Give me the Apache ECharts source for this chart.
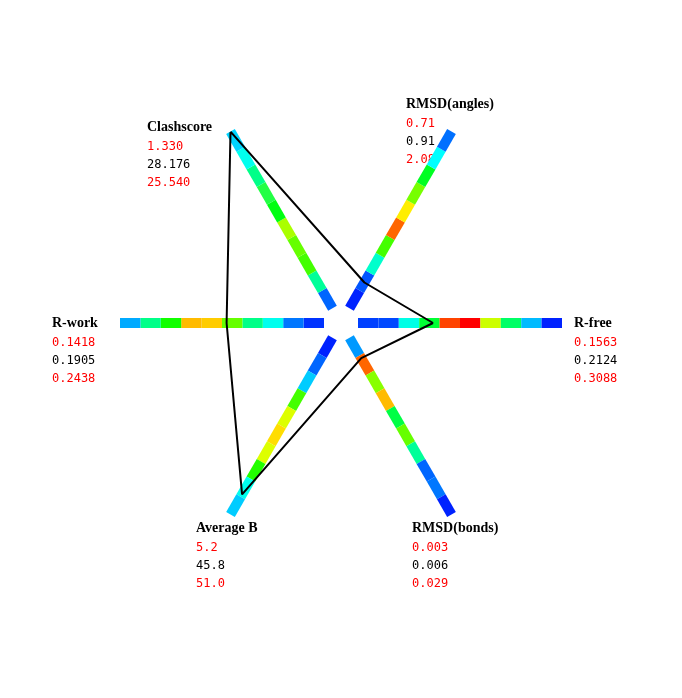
<!DOCTYPE html>
<html>
<head>
<meta charset="utf-8">
<script src="https://cdn.jsdelivr.net/npm/echarts@6/dist/echarts.min.js"></script>
<style>
html,body{margin:0;padding:0;background:#fff;}
#chart{width:682px;height:698px;}
</style>
</head>
<body>
<div id="chart"></div>
<script>
// Axes in counter-clockwise order starting at the right (0 deg)
var metrics = ['R-free', 'RMSD(angles)', 'Clashscore', 'R-work', 'Average B', 'RMSD(bonds)'];
var axisAngles = [0, 60, 120, 180, 240, 300];
var minLabels = ['0.1563', '0.71', '1.330', '0.1418', '5.2', '0.003'];
var valueLabels = ['0.2124', '0.91', '28.176', '0.1905', '45.8', '0.006'];
var maxLabels = ['0.3088', '2.08', '25.540', '0.2438', '51.0', '0.029'];

// Colours of the 10 bar segments on each axis, from centre outward
var segColors = [
  ['#0040ff', '#0048ff', '#00ffe6', '#00ff33', '#ff4400', '#ff0000', '#ccff00', '#00ff66', '#00bbff', '#0022ff'],
  ['#0022ff', '#0055ff', '#00ffcc', '#44ff00', '#ff6600', '#ffee00', '#77ff00', '#00ff22', '#00ffff', '#0070ff'],
  ['#0066ff', '#00ff99', '#44ff00', '#66ff00', '#aaff00', '#00ff11', '#22ff44', '#00ff88', '#00ffee', '#00d4ff'],
  ['#0033ff', '#0077ff', '#00ffee', '#00ff88', '#66ff00', '#ffcc00', '#ffbb00', '#11ff00', '#00ff88', '#00aaff'],
  ['#0022ff', '#0066ff', '#00ccff', '#44ff00', '#ddff00', '#ffdd00', '#ddff00', '#22ff00', '#00ffee', '#00ccff'],
  ['#0099ff', '#ff6600', '#88ff00', '#ffbb00', '#00ff44', '#66ff00', '#00ff99', '#0066ff', '#0077ff', '#0022ff']
];

var labelPos = [[574, 323], [406, 104], [147, 127], [52, 323], [196, 528], [412, 528]];

var nSeg = 10;
var segData = [];
for (var a = 0; a < metrics.length; a++) {
  for (var s = 0; s < nSeg; s++) {
    segData.push({value: [s / nSeg, axisAngles[a], (s + 1) / nSeg, a, s]});
  }
}

var polyData = [];
for (var i = 0; i < metrics.length; i++) {
  var mn = parseFloat(minLabels[i]), mx = parseFloat(maxLabels[i]), v = parseFloat(valueLabels[i]);
  var t = (v - mn) / (mx - mn);
  t = Math.max(0, Math.min(1, t));
  polyData.push([t, axisAngles[i]]);
}
polyData.push(polyData[0]);

var graphics = [];
for (var k = 0; k < metrics.length; k++) {
  var p = labelPos[k];
  graphics.push({type: 'text', left: p[0], top: p[1] - 7, style: {text: metrics[k], fill: '#000', font: 'bold 14px "Liberation Serif", serif'}});
  var vals = [minLabels[k], valueLabels[k], maxLabels[k]];
  var cols = ['#ff0000', '#000000', '#ff0000'];
  for (var j = 0; j < 3; j++) {
    graphics.push({type: 'text', left: p[0], top: p[1] + 18 * (j + 1) - 4, style: {text: vals[j], fill: cols[j], font: '12px "DejaVu Sans Mono", monospace'}});
  }
}

var chart = echarts.init(document.getElementById('chart'), null, {renderer: 'canvas'});
chart.setOption({
  animation: false,
  backgroundColor: '#ffffff',
  polar: {center: [341, 323], radius: [17, 221]},
  angleAxis: {type: 'value', min: 0, max: 360, startAngle: 0, clockwise: false, show: false, splitLine: {show: false}, axisLine: {show: false}},
  radiusAxis: {type: 'value', min: 0, max: 1, show: false, splitLine: {show: false}, axisLine: {show: false}},
  graphic: graphics,
  series: [
    {
      type: 'custom',
      coordinateSystem: 'polar',
      data: segData,
      encode: {radius: 0, angle: 1},
      renderItem: function (params, api) {
        var p0 = api.coord([api.value(0), api.value(1)]);
        var p1 = api.coord([api.value(2), api.value(1)]);
        var col = segColors[api.value(3)][api.value(4)];
        return {
          type: 'line',
          shape: {x1: p0[0], y1: p0[1], x2: p1[0], y2: p1[1]},
          style: {stroke: col, lineWidth: 10, lineCap: 'butt'}
        };
      },
      z: 1
    },
    {
      type: 'line',
      coordinateSystem: 'polar',
      data: polyData,
      symbol: 'none',
      lineStyle: {color: '#000', width: 2},
      z: 5
    }
  ]
});
</script>
</body>
</html>
